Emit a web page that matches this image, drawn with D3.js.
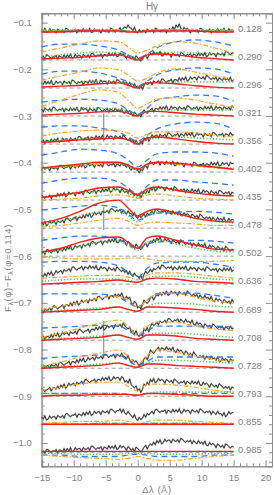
<!DOCTYPE html>
<html>
<head>
<meta charset="utf-8">
<script src="https://cdn.jsdelivr.net/npm/d3@7"></script>
<style>
body { margin: 0; background: #fff; }
svg text { font-family: "Liberation Sans", Arial, sans-serif; fill: #808080; }
</style>
</head>
<body>
<svg id="chart" width="274" height="495"></svg>
<script>
// phases of the spectra, top to bottom
const phases = ["0.128","0.290","0.296","0.321","0.356","0.402","0.435","0.478",
	"0.502","0.636","0.689","0.708","0.728","0.793","0.855","0.985"];

// model curves, sampled at these wavelengths (Å)
const modelX = [-15,-12,-9,-6,-3,-1.5,0,1.5,3,6,9,12,15];

// values in units of 0.001, relative to each spectrum's zero line
const redModel = [
	[0,0,2,2,2,0,0,2,2,2,2,0,0],
	[2,4,6,9,11,6,0,11,13,11,6,3,0],
	[2,4,6,9,11,6,0,11,11,9,5,2,0],
	[2,4,6,9,10,6,0,10,10,7,4,2,0],
	[4,6,9,11,13,9,0,13,15,11,6,2,0],
	[9,13,17,21,21,15,6,17,21,19,15,11,6],
	[6,11,17,26,28,21,11,24,28,21,15,11,9],
	[11,21,36,54,60,43,26,36,41,32,21,15,13],
	[9,17,30,39,41,30,17,39,43,34,24,15,13],
	[0,2,4,6,9,6,4,11,13,11,6,4,2],
	[0,2,4,6,11,6,2,11,11,9,6,2,0],
	[0,2,4,6,11,6,2,11,11,9,4,2,0],
	[0,2,4,6,11,6,2,9,9,6,4,2,0],
	[0,2,2,4,4,4,2,6,6,4,2,0,0],
	[0,0,0,0,0,0,0,0,0,0,0,0,0],
	[2,2,2,2,2,2,2,2,2,2,2,2,2]
];
const greenModel = [
	[2,2,4,4,4,2,0,2,4,4,4,2,2],
	[6,11,15,17,15,9,2,9,15,17,15,13,11],
	[9,11,13,15,13,9,2,9,13,13,13,13,13],
	[9,13,17,17,15,11,2,9,13,13,13,13,13],
	[6,9,11,13,13,9,2,9,13,15,13,11,9],
	[6,11,15,19,19,13,4,15,21,19,15,11,9],
	[6,11,15,19,21,15,6,19,26,21,15,11,9],
	[6,15,26,34,36,26,13,28,34,30,21,15,11],
	[6,13,21,30,32,24,13,30,34,26,17,11,9],
	[6,9,11,11,11,9,4,13,17,17,15,11,9],
	[2,4,6,9,11,6,2,11,19,19,17,13,11],
	[2,4,6,9,11,6,2,11,15,15,13,9,6],
	[2,4,6,9,11,6,2,11,17,17,15,13,11],
	[6,6,6,6,6,4,2,6,9,9,9,9,9],
	[0,0,0,2,2,0,0,2,2,2,2,0,0],
	[-2,-2,-4,-4,-4,-2,-2,-2,-4,-4,-4,-2,-2]
];
const blueModel = [
	[2,2,3,3,4,2,0,2,4,4,3,3,2],
	[28,34,34,30,21,11,4,13,26,39,43,39,30],
	[30,36,36,32,21,13,4,15,28,39,43,41,30],
	[30,34,36,34,26,13,4,17,34,41,45,43,32],
	[36,39,39,34,26,15,6,19,32,43,47,45,32],
	[36,43,49,47,39,26,11,26,39,43,43,41,34],
	[36,43,47,47,39,26,13,30,43,43,39,36,32],
	[39,43,47,49,43,30,17,26,32,34,36,34,30],
	[34,39,43,43,36,26,17,26,30,32,34,32,28],
	[47,49,49,47,39,26,15,34,45,47,47,43,36],
	[39,39,39,39,32,21,11,26,39,41,41,36,30],
	[26,28,30,32,30,21,9,19,30,30,30,30,28],
	[21,24,26,28,28,17,6,15,24,24,24,24,24],
	[6,6,6,6,6,4,2,6,6,6,6,6,6],
	[0,0,0,2,2,2,0,2,2,2,2,0,0],
	[-6,-6,-9,-9,-9,-6,-4,-6,-9,-9,-9,-6,-6]
];
const orangeModel = [
	[4,4,5,5,5,3,1,3,5,5,5,4,4],
	[17,26,34,41,39,28,15,21,30,39,36,26,15],
	[17,26,34,43,39,28,15,21,32,41,34,26,17],
	[21,34,47,56,51,34,17,26,36,39,34,26,19],
	[17,24,28,30,28,24,13,21,26,26,24,19,15],
	[9,11,13,17,19,15,6,17,21,17,13,9,6],
	[0,2,4,9,11,9,4,11,13,9,4,2,0],
	[2,6,11,17,21,15,6,11,13,11,9,6,6],
	[-2,-4,-6,-6,-6,-4,-4,-6,-9,-11,-11,-11,-9],
	[13,15,17,19,19,15,9,19,24,24,21,17,13],
	[6,13,21,30,34,26,11,26,39,41,32,24,19],
	[6,15,26,36,43,30,11,30,39,39,30,24,21],
	[4,13,24,32,39,26,9,28,39,34,26,19,15],
	[13,19,26,30,30,21,11,26,26,24,19,13,9],
	[2,4,6,6,9,6,2,6,9,9,6,4,2],
	[-6,-9,-11,-13,-15,-13,-9,-13,-17,-17,-13,-9,-6]
];

// observed spectra, every 0.25 Å from -15 to 15, units of 0.001
const obsStart = -15, obsStep = 0.25;
const observed = [
	[6,1,8,-1, 0,7,2,5, 4,-2,6,3, 1,5,-1,8, 7,3,0,4, 2,6,-2,5, 3,0,7,1, 6,1,8,-1, 0,7,2,5, 4,-2,6,3, 1,5,-1,8, 7,3,0,4,
	 5,9,1,8, 11,8,15,9, 8,3,10,1, -2,5,0,3, 4,-2,6,3, 1,5,-1,8, 7,3,0,4, 2,6,-2,5, 7,4,11,5, 15,10,17,8, 3,10,5,8,
	 4,-2,6,3, 1,5,-1,8, 7,3,0,4, 2,6,-2,5, 3,0,7,1, 6,1,8,-1, 0,7,2,5, 2],
	[4,8,2,11, 10,6,3,7, 6,10,2,9, 7,4,11,5, 11,6,13,4, 5,12,7,10, 10,4,12,9, 7,11,5,14, 14,10,7,11, 9,13,5,12, 11,8,15,9, 14,9,16,7,
	 8,15,10,13, 9,3,11,8, 2,6,0,9, 5,1,-2,2, 7,11,3,10, 14,11,18,12, 16,11,18,9, 9,16,11,14, 12,6,14,11, 9,13,7,16, 15,11,8,12,
	 10,14,6,13, 11,8,15,9, 14,9,16,7, 9,16,11,14, 13,7,15,12, 11,15,9,18, 18,14,11,15, 15],
	[11,8,15,9, 14,9,16,7, 8,15,10,13, 13,7,15,12, 10,14,8,17, 16,12,9,13, 11,15,7,14, 13,10,17,11, 16,11,18,9, 10,17,12,15, 14,8,16,13, 11,15,9,18,
	 17,13,10,14, 9,13,5,12, 5,2,9,3, 4,-1,6,-3, 5,12,7,10, 13,7,15,12, 12,16,10,19, 19,15,12,16, 15,19,11,18, 18,15,22,16, 22,17,24,15,
	 17,24,19,22, 23,17,25,22, 20,24,18,27, 25,21,18,22, 19,23,15,22, 19,16,23,17, 21,16,23,14, 18],
	[15,9,17,14, 12,16,10,19, 18,14,11,15, 13,17,9,16, 14,11,18,12, 17,12,19,10, 11,18,13,16, 15,9,17,14, 11,15,9,18, 17,13,10,14, 12,16,8,15, 13,10,17,11,
	 14,9,16,7, 6,13,8,11, 6,0,8,5, 0,4,-2,7, 13,9,6,10, 13,17,9,16, 16,13,20,14, 20,15,22,13, 14,21,16,19, 18,12,20,17, 15,19,13,22,
	 21,17,14,18, 16,20,12,19, 17,14,21,15, 20,15,22,13, 14,21,16,19, 18,12,20,17, 15,19,13,22, 18],
	[5,9,1,8, 7,4,11,5, 11,6,13,4, 6,13,8,11, 11,5,13,10, 9,13,7,16, 16,12,9,13, 12,16,8,15, 14,11,18,12, 17,12,19,10, 12,19,14,17, 16,10,18,15,
	 13,17,11,20, 15,11,8,12, 5,9,1,8, 2,-1,6,0, 13,8,15,6, 13,20,15,18, 19,13,21,18, 17,21,15,24, 23,19,16,20, 19,23,15,22, 20,17,24,18,
	 23,18,25,16, 17,24,19,22, 21,15,23,20, 18,22,16,25, 24,20,17,21, 19,23,15,22, 21,18,25,19, 20],
	[4,11,6,9, 9,3,11,8, 7,11,5,14, 14,10,7,11, 10,14,6,13, 12,9,16,10, 16,11,18,9, 11,18,13,16, 16,10,18,15, 13,17,11,20, 20,16,13,17, 15,19,11,18,
	 16,13,20,14, 15,10,17,8, 4,11,6,9, 4,-2,6,3, 10,14,8,17, 23,19,16,20, 19,23,15,22, 19,16,23,17, 21,16,23,14, 14,21,16,19, 17,11,19,16,
	 14,18,12,21, 20,16,13,17, 15,19,11,18, 17,14,21,15, 20,15,22,13, 14,21,16,19, 19,13,21,18, 19],
	[11,7,4,8, 7,11,3,10, 10,7,14,8, 14,9,16,7, 10,17,12,15, 15,9,17,14, 14,18,12,21, 21,17,14,18, 18,22,14,21, 20,17,24,18, 24,19,26,17, 19,26,21,24,
	 22,16,24,21, 16,20,14,23, 17,13,10,14, 9,13,5,12, 17,14,21,15, 26,21,28,19, 23,30,25,28, 26,20,28,25, 22,26,20,29, 26,22,19,23, 20,24,16,23,
	 20,17,24,18, 22,17,24,15, 15,22,17,20, 18,12,20,17, 14,18,12,21, 20,16,13,17, 14,18,10,17, 15],
	[12,7,14,5, 8,15,10,13, 14,8,16,13, 13,17,11,20, 22,18,15,19, 20,24,16,23, 24,21,28,22, 30,25,32,23, 27,34,29,32, 34,28,36,33, 34,38,32,41, 42,38,35,39,
	 36,40,32,39, 33,30,37,31, 31,26,33,24, 21,28,23,26, 30,24,32,29, 32,36,30,39, 40,36,33,37, 34,38,30,37, 33,30,37,31, 34,29,36,27, 26,33,28,31,
	 28,22,30,27, 23,27,21,30, 27,23,20,24, 20,24,16,23, 19,16,23,17, 21,16,23,14, 14,21,16,19, 17],
	[6,10,4,13, 14,10,7,11, 11,15,7,14, 14,11,18,12, 20,15,22,13, 16,23,18,21, 23,17,25,22, 23,27,21,30, 32,28,25,29, 29,33,25,32, 32,29,36,30, 36,31,38,29,
	 29,36,31,34, 29,23,31,28, 19,23,17,26, 21,17,14,18, 24,28,20,27, 32,29,36,30, 39,34,41,32, 31,38,33,36, 33,27,35,32, 28,32,26,35, 32,28,25,29,
	 25,29,21,28, 24,21,28,22, 25,20,27,18, 17,24,19,22, 19,13,21,18, 14,18,12,21, 18,14,11,15, 13],
	[19,16,23,17, 25,20,27,18, 22,29,24,27, 29,23,31,28, 29,33,27,36, 37,33,30,34, 34,38,30,37, 36,33,40,34, 38,33,40,31, 31,38,33,36, 34,28,36,33, 30,34,28,37,
	 34,30,27,31, 25,29,21,28, 20,17,24,18, 17,12,19,10, 21,28,23,26, 32,26,34,31, 34,38,32,41, 40,36,33,37, 34,38,30,37, 34,31,38,32, 37,32,39,30,
	 30,37,32,35, 34,28,36,33, 30,34,28,37, 36,32,29,33, 30,34,26,33, 31,28,35,29, 34,29,36,27, 31],
	[5,-1,7,4, 5,9,3,12, 14,10,7,11, 12,16,8,15, 16,13,20,14, 22,17,24,15, 19,26,21,24, 26,20,28,25, 26,30,24,33, 34,30,27,31, 32,36,28,35, 35,32,39,33,
	 39,34,41,32, 27,34,29,32, 21,15,23,20, 9,13,7,16, 26,22,19,23, 30,34,26,33, 38,35,42,36, 43,38,45,36, 38,45,40,43, 42,36,44,41, 38,42,36,45,
	 42,38,35,39, 34,38,30,37, 32,29,36,30, 32,27,34,25, 23,30,25,28, 25,19,27,24, 20,24,18,27, 21],
	[5,9,1,8, 8,5,12,6, 14,9,16,7, 10,17,12,15, 16,10,18,15, 15,19,13,22, 23,19,16,20, 20,24,16,23, 24,21,28,22, 29,24,31,22, 25,32,27,30, 31,25,33,30,
	 30,34,28,37, 31,27,24,28, 17,21,13,20, 11,8,15,9, 25,20,27,18, 29,36,31,34, 39,33,41,38, 39,43,37,46, 46,42,39,43, 42,46,38,45, 41,38,45,39,
	 41,36,43,34, 32,39,34,37, 33,27,35,32, 28,32,26,35, 32,28,25,29, 26,30,22,29, 26,23,30,24, 26],
	[-1,6,1,4, 6,0,8,5, 5,9,3,12, 13,9,6,10, 11,15,7,14, 14,11,18,12, 20,15,22,13, 16,23,18,21, 23,17,25,22, 22,26,20,29, 30,26,23,27, 26,30,22,29,
	 28,25,32,26, 25,20,27,18, 11,18,13,16, 10,4,12,9, 20,24,18,27, 39,35,32,36, 41,45,37,44, 42,39,46,40, 43,38,45,36, 34,41,36,39, 35,29,37,34,
	 28,32,26,35, 30,26,23,27, 23,27,19,26, 22,19,26,20, 22,17,24,15, 15,22,17,20, 18,12,20,17, 17],
	[17,13,10,14, 15,19,11,18, 18,15,22,16, 24,19,26,17, 21,28,23,26, 28,22,30,27, 28,32,26,35, 36,32,29,33, 33,37,29,36, 36,33,40,34, 40,35,42,33, 35,42,37,40,
	 40,34,42,39, 30,34,28,37, 25,21,18,22, 12,16,8,15, 26,23,30,24, 36,31,38,29, 31,38,33,36, 34,28,36,33, 30,34,28,37, 34,30,27,31, 29,33,25,32,
	 29,26,33,27, 31,26,33,24, 23,30,25,28, 25,19,27,24, 20,24,18,27, 24,20,17,21, 17,21,13,20, 17],
	[16,11,18,9, 11,18,13,16, 17,11,19,16, 15,19,13,22, 23,19,16,20, 19,23,15,22, 21,18,25,19, 26,21,28,19, 21,28,23,26, 27,21,29,26, 25,29,23,32, 32,28,25,29,
	 29,33,25,32, 24,21,28,22, 19,14,21,12, 8,15,10,13, 21,15,23,20, 24,28,22,31, 32,28,25,29, 27,31,23,30, 28,25,32,26, 31,26,33,24, 25,32,27,30,
	 29,23,31,28, 26,30,24,33, 31,27,24,28, 25,29,21,28, 24,21,28,22, 23,18,25,16, 20,27,22,25, 25],
	[-1,3,-3,6, 6,2,-1,3, 2,6,-2,5, 4,1,8,2, 8,3,10,1, 3,10,5,8, 8,2,10,7, 6,10,4,13, 13,9,6,10, 8,12,4,11, 10,7,14,8, 13,8,15,6,
	 8,15,10,13, 10,4,12,9, 4,8,2,11, 8,4,1,5, 11,15,7,14, 18,15,22,16, 25,20,27,18, 21,28,23,26, 26,20,28,25, 23,27,21,30, 28,24,21,25,
	 22,26,18,25, 21,18,25,19, 22,17,24,15, 14,21,16,19, 16,10,18,15, 11,15,9,18, 16,12,9,13, 11]
];

// single-pixel spikes in the observed spectra (panel, wavelength, low, high)
const spikes = [
	{ panel: 3, x: -5.3, lo: -55, hi: 6 },
	{ panel: 7, x: -5.3, lo: -4, hi: 45 },
	{ panel: 11, x: -5.3, lo: -39, hi: 41 }
];

const yMajor = [-0.1,-0.2,-0.3,-0.4,-0.5,-0.6,-0.7,-0.8,-0.9,-1.0];
const xMajor = [-15,-10,-5,0,5,10,15,20];

var svg = d3.select('#chart');

var x = d3.scaleLinear().domain([-15, 21]).range([41.7, 272]),
	y = d3.scaleLinear().domain([-0.08, -1.05]).range([13.3, 466.3]);

const zero = i => -0.12 - 0.06 * i;

// axes
var axisColor = '#8c8c8c';
function styleAxis(g) {
	g.selectAll('path').attr('stroke', axisColor);
	g.selectAll('line').attr('stroke', axisColor);
	g.selectAll('text').attr('fill', '#808080').style('font-size', '9.5px')
		.style('font-family', '"Liberation Sans", Arial, sans-serif');
}
var yMinor = d3.range(-0.08, -1.0501, -0.02).filter(v => yMajor.every(m => Math.abs(m - v) > 1e-6));
var xMinor = d3.range(-15, 21.01, 1).filter(v => xMajor.indexOf(v) < 0);

svg.append('g').attr('transform', `translate(${x(-15)},0)`)
	.call(d3.axisLeft(y).tickValues(yMinor).tickSize(-3).tickFormat(''))
	.call(styleAxis);
svg.append('g').attr('transform', `translate(${x(-15)},0)`)
	.call(d3.axisLeft(y).tickValues(yMajor).tickSize(-6).tickPadding(10).tickFormat(d3.format('.1f')))
	.call(styleAxis)
	.call(g => g.select('path').attr('stroke', '#a8a8a8').attr('stroke-width', 2));
svg.append('g').attr('transform', `translate(${x(21)},0)`)
	.call(d3.axisRight(y).tickValues(yMinor).tickSize(-3).tickFormat(''))
	.call(styleAxis);
svg.append('g').attr('transform', `translate(${x(21)},0)`)
	.call(d3.axisRight(y).tickValues(yMajor).tickSize(-6).tickFormat(''))
	.call(styleAxis);
svg.append('g').attr('transform', `translate(0,${y(-1.05)})`)
	.call(d3.axisBottom(x).tickValues(xMinor).tickSize(-3).tickFormat(''))
	.call(styleAxis);
svg.append('g').attr('transform', `translate(0,${y(-1.05)})`)
	.call(d3.axisBottom(x).tickValues(xMajor).tickSize(-6).tickPadding(8).tickFormat(d3.format('d')))
	.call(styleAxis);
svg.append('g').attr('transform', `translate(0,${y(-0.08)})`)
	.call(d3.axisTop(x).tickValues(xMinor).tickSize(-3).tickFormat(''))
	.call(styleAxis);
svg.append('g').attr('transform', `translate(0,${y(-0.08)})`)
	.call(d3.axisTop(x).tickValues(xMajor).tickSize(-6).tickFormat(''))
	.call(styleAxis);

// spectra
var plot = svg.append('g');
var modelLine = d3.line().curve(d3.curveMonotoneX);
var obsLine = d3.line();

var models = [
	{ data: blueModel, color: '#2b7cf6', dash: '6,4', width: 1.3 },
	{ data: orangeModel, color: '#ffa21c', dash: '5,2,1.5,2', width: 1.2 },
	{ data: greenModel, color: '#3ad13a', dash: '1.2,2', width: 1.5 },
	{ data: redModel, color: '#ff1a1a', dash: null, width: 1.4 }
];

phases.forEach((p, i) => {
	let g = plot.append('g');
	let base = zero(i);

	g.append('line')
		.attr('x1', x(-15)).attr('x2', x(15))
		.attr('y1', y(base)).attr('y2', y(base))
		.attr('stroke', '#9a9a9a').attr('stroke-width', 1).attr('stroke-dasharray', '4,3');

	let pts = observed[i].map((v, j) => [x(obsStart + j * obsStep), y(base + v / 1000)]);
	g.append('path').attr('d', obsLine(pts))
		.attr('fill', 'none').attr('stroke', '#9a9a9a').attr('stroke-width', 1.4);
	g.append('path').attr('d', obsLine(pts))
		.attr('fill', 'none').attr('stroke', '#000').attr('stroke-width', 0.6);

	spikes.filter(s => s.panel === i).forEach(s => {
		g.append('line')
			.attr('x1', x(s.x)).attr('x2', x(s.x))
			.attr('y1', y(base + s.lo / 1000)).attr('y2', y(base + s.hi / 1000))
			.attr('stroke', '#444').attr('stroke-width', 0.7);
	});

	models.forEach(m => {
		let mpts = m.data[i].map((v, j) => [x(modelX[j]), y(base + v / 1000)]);
		g.append('path').attr('d', modelLine(mpts))
			.attr('fill', 'none').attr('stroke', m.color)
			.attr('stroke-width', m.width)
			.attr('stroke-dasharray', m.dash);
	});

	svg.append('text')
		.attr('x', 238).attr('y', y(base) - 3).attr('dy', '0.35em')
		.style('font-size', '9.5px')
		.text(p);
});

// titles
svg.append('text').attr('x', 152).attr('y', 10).attr('text-anchor', 'middle')
	.style('font-size', '10px').text('Hγ');
svg.append('text').attr('x', x(3)).attr('y', 493).attr('text-anchor', 'middle')
	.style('font-size', '9.5px').style('letter-spacing', '0.5px').text('Δλ (Å)');
svg.append('text')
	.attr('transform', 'translate(11,268) rotate(-90)')
	.attr('text-anchor', 'middle')
	.style('font-size', '9.5px').style('letter-spacing', '0.6px')
	.html('F<tspan dy="2" font-size="7px">λ</tspan><tspan dy="-2">(φ)−F</tspan><tspan dy="2" font-size="7px">λ</tspan><tspan dy="-2">(φ=0.114)</tspan>');
</script>
</body>
</html>
